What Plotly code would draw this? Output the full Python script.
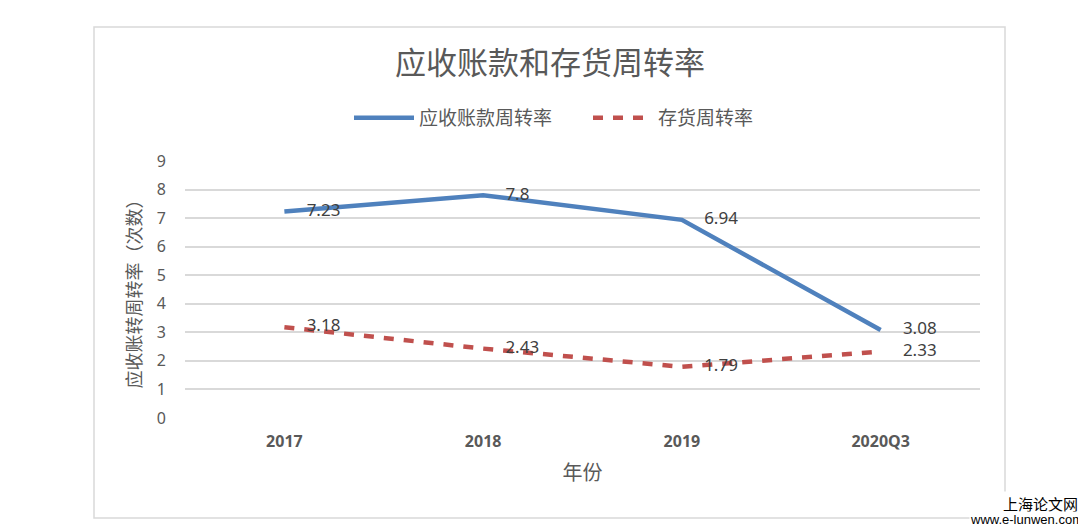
import plotly.graph_objects as go

categories = ["2017", "2018", "2019", "2020Q3"]
receivable_turnover = [7.23, 7.8, 6.94, 3.08]
inventory_turnover = [3.18, 2.43, 1.79, 2.33]
y_ticks = [0, 1, 2, 3, 4, 5, 6, 7, 8, 9]

# page body has an 8px default margin -> work in screen coords, shift by OFF
OFF = 8
W, H = 1086 - OFF, 532 - OFF
L, R, T, B = 185 - OFF, 980 - OFF, 161 - OFF, 418 - OFF

def px(x):
    return (x - OFF - L) / (R - L)

def py(y):
    return (B - (y - OFF)) / (B - T)

label_font = dict(size=17, color="#404040", family="Noto Sans, DejaVu Sans")

fig = go.Figure()
fig.add_trace(go.Scatter(
    x=categories, y=receivable_turnover, name="应收账款周转率",
    mode="lines+markers+text", text=[str(v) for v in receivable_turnover],
    textposition="middle right", textfont=label_font,
    line=dict(color="#4f81bd", width=4.5),
    marker=dict(size=34, color="rgba(0,0,0,0)", line=dict(width=0)),
))
fig.add_trace(go.Scatter(
    x=categories, y=inventory_turnover, name="存货周转率",
    mode="lines+markers+text", text=[str(v) for v in inventory_turnover],
    textposition="middle right", textfont=label_font,
    line=dict(color="#c0504d", width=4.5, dash="10px,10px"),
    marker=dict(size=34, color="rgba(0,0,0,0)", line=dict(width=0)),
))

fig.update_layout(
    width=W, height=H,
    margin=dict(l=L, r=W - R, t=T, b=H - B),
    paper_bgcolor="white", plot_bgcolor="white",
    font=dict(family="Noto Sans CJK SC", color="#595959"),
    title=dict(text="应收账款和存货周转率", x=(550 - OFF) / W, xanchor="center",
               y=1 - (63 - OFF) / H, yanchor="middle", yref="container",
               font=dict(size=31, color="#595959", family="Noto Sans CJK SC")),
    legend=dict(orientation="h", x=(349 - OFF) / W, xanchor="left", xref="container",
                y=1 - (118 - OFF) / H, yanchor="middle", yref="container",
                font=dict(size=19, color="#595959", family="Noto Sans CJK SC"),
                itemwidth=60, entrywidth=164, traceorder="normal"),
    showlegend=True,
)
fig.update_xaxes(
    type="category", range=[-0.5, 3.5], showgrid=False, zeroline=False,
    showline=False, ticks="",
    tickfont=dict(size=16, color="#595959", family="Noto Sans, DejaVu Sans", weight="bold"),
    ticklabelstandoff=12,
    title=dict(text="年份", font=dict(size=20, color="#595959"), standoff=14),
)
fig.update_yaxes(
    range=[0, 9], tickvals=y_ticks, showgrid=True, gridcolor="#d9d9d9", gridwidth=2,
    zeroline=False, showline=False, ticks="",
    tickfont=dict(size=16, color="#595959", family="Noto Sans, DejaVu Sans"),
    ticklabelstandoff=18,
    title=dict(text="应收账转周转率（次数）", font=dict(size=18, color="#595959"), standoff=10),
)

# outer chart border
fig.add_shape(type="rect", xref="paper", yref="paper",
              x0=px(94), x1=px(1005), y0=py(518), y1=py(27),
              line=dict(color="#d9d9d9", width=1.5), fillcolor="rgba(0,0,0,0)", layer="below")

# watermark
fig.add_annotation(text="上海论文网", xref="paper", yref="paper", x=px(1040), y=py(503),
                   xanchor="center", yanchor="middle",
                   showarrow=False, font=dict(size=15, color="#000000", family="Noto Sans CJK SC"),
                   bgcolor="white")
fig.add_annotation(text="www.e-lunwen.com", xref="paper", yref="paper", x=px(1026), y=py(519),
                   xanchor="center", yanchor="middle", borderpad=0,
                   showarrow=False, font=dict(size=13, color="#000000", family="Liberation Sans"),
                   bgcolor="white")

fig.write_html("out.html")
